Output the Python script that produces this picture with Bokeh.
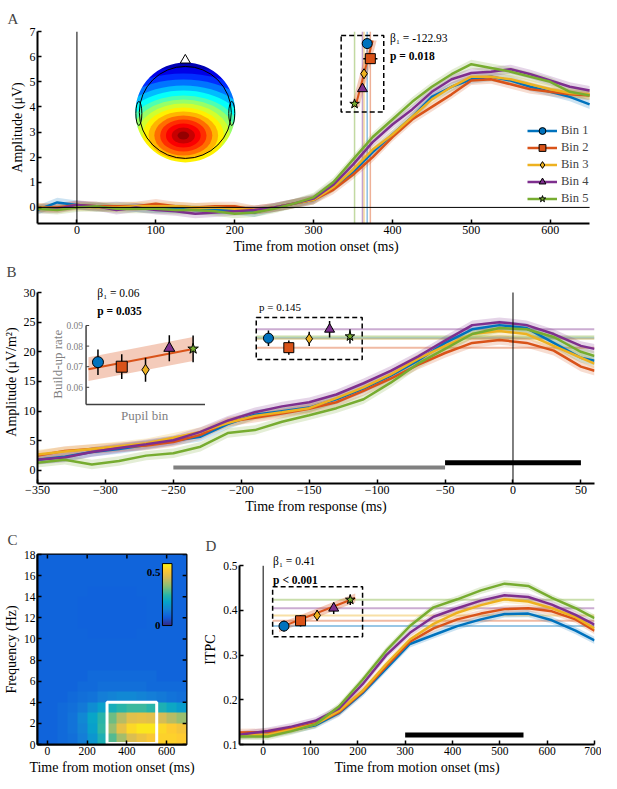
import numpy as np
from bokeh.plotting import figure
from bokeh.models import (Range1d, Legend, LegendItem, LinearColorMapper, FixedTicker, Label)
from bokeh.layouts import column, row
from bokeh.embed import file_html
from bokeh.resources import INLINE
from bokeh.core.properties import value

FONT = "Liberation Serif"
BIN_LABELS = ["Bin 1", "Bin 2", "Bin 3", "Bin 4", "Bin 5"]
BIN_COLORS = ["#0072BD", "#D95319", "#EDB120", "#7E2F8E", "#77AC30"]
BIN_MARKERS = ["circle", "square", "diamond", "triangle", "star"]
BIN_INDEX = [1, 2, 3, 4, 5]
FIT_COLOR = "#D95319"

# ---------------- Panel A data ----------------
a_time = [-50, -25, 0, 25, 50, 75, 100, 125, 150, 175, 200, 225, 250, 275, 300,
          325, 350, 375, 400, 425, 450, 475, 500, 525, 550, 575, 600, 625, 650]
a_bin1 = [-0.1, 0.2, 0.1, 0.0, 0.05, 0.0, -0.05, -0.05, -0.1, -0.1, -0.1, -0.2, 0.0, 0.15, 0.3,
          0.8, 1.4, 2.2, 2.9, 3.6, 4.4, 4.8, 5.1, 5.2, 5.05, 4.8, 4.6, 4.4, 4.1]
a_bin2 = [0.0, 0.0, 0.1, 0.05, 0.05, 0.05, 0.15, 0.05, 0.0, 0.05, 0.05, -0.1, 0.0, 0.15, 0.3,
          0.7, 1.3, 2.0, 2.8, 3.5, 4.0, 4.5, 5.05, 5.1, 4.9, 4.7, 4.6, 4.5, 4.45]
a_bin3 = [0.0, -0.05, 0.05, 0.0, 0.0, 0.05, 0.05, 0.05, 0.0, 0.0, -0.05, -0.1, 0.0, 0.15, 0.3,
          0.8, 1.5, 2.3, 2.9, 3.6, 4.3, 4.8, 5.2, 5.2, 5.1, 4.9, 4.7, 4.55, 4.5]
a_bin4 = [-0.05, -0.05, 0.1, 0.05, -0.1, 0.0, -0.1, -0.15, -0.25, -0.2, -0.15, -0.1, 0.0, 0.15, 0.35,
          0.9, 1.7, 2.6, 3.3, 3.9, 4.6, 5.1, 5.35, 5.4, 5.5, 5.3, 5.05, 4.8, 4.65]
a_bin5 = [-0.05, -0.1, 0.0, 0.05, -0.05, -0.05, -0.05, -0.1, -0.1, -0.15, -0.25, -0.2, -0.05, 0.15, 0.4,
          1.0, 1.9, 2.8, 3.5, 4.2, 4.8, 5.3, 5.7, 5.55, 5.4, 5.2, 5.0, 4.6, 4.45]
a_sem = 0.18
a_xlim = [-50, 650]
a_ylim = [-0.64, 7]
a_latency = [368, 372, 364, 362, 352]
a_latency_err = [3, 9, 3, 3, 3]
a_fit_bins = [0.8, 5.2]
a_fit_lat = [375, 353]
a_fit_ci = 5
a_xticks = [0, 100, 200, 300, 400, 500, 600]
a_yticks = [0, 1, 2, 3, 4, 5, 6, 7]
a_beta = "β₁ = -122.93"
a_p = "p = 0.018"

# scalp topography read as filled contour rings around the posterior maximum
topo_ring_ry = [74, 68, 62, 56, 50, 45, 40, 36, 32, 28, 24, 20, 16, 12, 8, 4]      # px
topo_ring_val = [0.05, 0.10, 0.17, 0.24, 0.31, 0.38, 0.45, 0.52, 0.58, 0.64, 0.70,
                 0.77, 0.83, 0.88, 0.93, 0.98]                                      # jet 0..1
topo_aspect = 1.45

# ---------------- Panel B data ----------------
b_time = [-350, -330, -310, -290, -270, -250, -230, -210, -190, -170, -150,
          -130, -110, -90, -70, -50, -30, -10, 10, 30, 50, 60]
b_bin1 = [1.8, 2.3, 3.1, 3.6, 4.3, 5.0, 5.7, 7.8, 9.4, 10.0, 10.6, 12.0, 13.8, 16.0, 18.5, 21.5, 23.8, 24.5, 24.0, 21.5, 19.0, 18.5]
b_bin2 = [2.5, 3.3, 3.6, 3.9, 4.2, 4.8, 6.0, 8.2, 8.9, 9.6, 10.4, 11.5, 13.4, 15.5, 17.8, 19.8, 21.5, 22.0, 21.5, 20.2, 17.5, 16.8]
b_bin3 = [2.7, 3.2, 3.6, 4.1, 4.6, 5.5, 6.5, 8.0, 9.2, 9.8, 10.5, 12.2, 14.0, 16.2, 18.8, 21.0, 23.0, 23.5, 23.0, 21.0, 19.0, 18.0]
b_bin4 = [1.8, 2.2, 3.1, 3.8, 4.4, 5.1, 6.5, 8.4, 9.8, 10.8, 11.5, 12.8, 14.7, 16.8, 19.2, 21.9, 24.5, 25.0, 24.5, 23.0, 21.0, 20.5]
b_bin5 = [1.3, 1.8, 1.0, 1.6, 2.5, 2.9, 4.0, 6.3, 6.8, 8.2, 9.3, 10.5, 12.0, 14.8, 18.0, 20.5, 23.0, 24.0, 23.8, 22.5, 20.0, 19.3]
b_sem = 0.8
b_xlim = [-350, 60]
b_ylim = [-2.2, 30]
b_level = [22.3, 20.7, 22.2, 23.8, 22.6]
b_level_err = [1.3, 1.2, 1.2, 1.4, 1.2]
b_rate = [0.0722, 0.0700, 0.0685, 0.0790, 0.0787]
b_rate_err = [0.0062, 0.0060, 0.0058, 0.0063, 0.0065]
b_fit_x = [0.6, 5.0]
b_fit_y = [0.0688, 0.0786]
b_fit_ci = 0.0058
b_ins_xlim = [0.5, 5.5]
b_ins_ylim = [0.0517, 0.09]
b_ins_yticks = [0.06, 0.07, 0.08, 0.09]
b_ins_yticklabels = ["0.06", "0.07", "0.08", "0.09"]
b_sig_gray = [-250, -50]
b_sig_black = [-50, 50]
b_xticks = [-350, -300, -250, -200, -150, -100, -50, 0, 50]
b_yticks = [0, 5, 10, 15, 20, 25, 30]
b_beta = "β₁ = 0.06"
b_p = "p = 0.035"
b_p_level = "p = 0.145"

# ---------------- Panel C data ----------------
c_freq_edges = [0, 18]
c_time_edges = [-50, 700]
c_itpc = [  # rows: 0-1 Hz ... 17-18 Hz; columns: 50 ms bins from -50 to 700 ms
    [0.09, 0.09, 0.10, 0.11, 0.14, 0.19, 0.26, 0.32, 0.39, 0.45, 0.48, 0.50, 0.52, 0.52, 0.51],
    [0.09, 0.09, 0.10, 0.12, 0.15, 0.21, 0.29, 0.38, 0.47, 0.53, 0.55, 0.55, 0.53, 0.51, 0.49],
    [0.09, 0.09, 0.10, 0.12, 0.16, 0.22, 0.28, 0.34, 0.41, 0.46, 0.47, 0.46, 0.44, 0.41, 0.38],
    [0.09, 0.09, 0.10, 0.11, 0.13, 0.17, 0.21, 0.25, 0.28, 0.30, 0.30, 0.28, 0.26, 0.23, 0.20],
    [0.09, 0.09, 0.09, 0.10, 0.11, 0.12, 0.14, 0.15, 0.16, 0.16, 0.15, 0.14, 0.13, 0.12, 0.11],
    [0.09, 0.09, 0.09, 0.09, 0.10, 0.10, 0.11, 0.11, 0.11, 0.11, 0.11, 0.10, 0.10, 0.10, 0.10],
    [0.09, 0.09, 0.09, 0.09, 0.09, 0.10, 0.10, 0.10, 0.10, 0.10, 0.10, 0.10, 0.09, 0.09, 0.09],
    [0.09, 0.09, 0.09, 0.09, 0.09, 0.09, 0.09, 0.09, 0.09, 0.09, 0.09, 0.09, 0.09, 0.09, 0.09],
    [0.09, 0.09, 0.09, 0.09, 0.09, 0.09, 0.09, 0.09, 0.09, 0.09, 0.09, 0.09, 0.09, 0.09, 0.09],
    [0.09, 0.09, 0.09, 0.09, 0.09, 0.09, 0.09, 0.09, 0.09, 0.09, 0.09, 0.09, 0.09, 0.09, 0.09],
    [0.09, 0.09, 0.09, 0.09, 0.09, 0.085, 0.085, 0.085, 0.085, 0.085, 0.09, 0.09, 0.09, 0.09, 0.09],
    [0.09, 0.09, 0.09, 0.09, 0.085, 0.085, 0.085, 0.085, 0.085, 0.085, 0.085, 0.09, 0.09, 0.09, 0.09],
    [0.09, 0.09, 0.09, 0.09, 0.085, 0.085, 0.085, 0.085, 0.085, 0.085, 0.085, 0.09, 0.09, 0.09, 0.09],
    [0.09, 0.09, 0.09, 0.09, 0.085, 0.085, 0.085, 0.085, 0.085, 0.085, 0.085, 0.09, 0.09, 0.09, 0.09],
    [0.09, 0.09, 0.09, 0.09, 0.09, 0.085, 0.085, 0.085, 0.085, 0.085, 0.09, 0.09, 0.09, 0.09, 0.09],
    [0.09, 0.09, 0.09, 0.09, 0.09, 0.09, 0.09, 0.09, 0.09, 0.09, 0.09, 0.09, 0.09, 0.09, 0.09],
    [0.09, 0.09, 0.09, 0.09, 0.09, 0.09, 0.09, 0.09, 0.09, 0.09, 0.09, 0.09, 0.09, 0.09, 0.09],
    [0.09, 0.09, 0.09, 0.09, 0.09, 0.09, 0.09, 0.09, 0.09, 0.09, 0.09, 0.09, 0.09, 0.09, 0.09],
]
c_clim = [0, 0.58]
c_window_time = [300, 550]
c_window_freq = [0, 4]
c_xticks = [0, 200, 400, 600]
c_yticks = [0, 2, 4, 6, 8, 10, 12, 14, 16, 18]
c_cbar_ticks = [0, 0.5]
c_cbar_labels = ["0", "0.5"]

# ---------------- Panel D data ----------------
d_time = [-50, 10, 60, 110, 160, 210, 260, 310, 360, 410, 460, 510, 560, 610, 660, 700]
d_bin1 = [0.120, 0.122, 0.132, 0.143, 0.170, 0.215, 0.270, 0.325, 0.345, 0.365, 0.380, 0.392, 0.393, 0.378, 0.355, 0.333]
d_bin2 = [0.127, 0.128, 0.135, 0.147, 0.172, 0.218, 0.275, 0.330, 0.360, 0.380, 0.393, 0.403, 0.405, 0.398, 0.380, 0.355]
d_bin3 = [0.120, 0.122, 0.133, 0.145, 0.175, 0.220, 0.280, 0.335, 0.370, 0.395, 0.412, 0.425, 0.420, 0.405, 0.385, 0.360]
d_bin4 = [0.122, 0.130, 0.140, 0.153, 0.180, 0.235, 0.300, 0.350, 0.386, 0.405, 0.422, 0.434, 0.430, 0.413, 0.390, 0.368]
d_bin5 = [0.118, 0.118, 0.130, 0.145, 0.185, 0.245, 0.310, 0.365, 0.407, 0.425, 0.445, 0.460, 0.455, 0.428, 0.405, 0.383]
d_sem = 0.008
d_xlim = [-50, 700]
d_ylim = [0.1, 0.5]
d_level = [0.365, 0.377, 0.389, 0.405, 0.424]
d_level_err = [0.012, 0.013, 0.012, 0.013, 0.012]
d_fit_b = [0.7, 5.3]
d_fit_y = [0.361, 0.428]
d_fit_ci = 0.010
d_sig = [300, 550]
d_xticks = [0, 100, 200, 300, 400, 500, 600, 700]
d_yticks = [0.1, 0.2, 0.3, 0.4, 0.5]
d_beta = "β₁ = 0.41"
d_p = "p < 0.001"


# ---------------- helpers ----------------
def hex2rgb(h):
    return tuple(int(h[i:i + 2], 16) for i in (1, 3, 5))


def build_palette(stops, n=256):
    pos = [s for s, _ in stops]
    rgb = np.array([hex2rgb(c) for _, c in stops], dtype=float)
    out = []
    for t in np.linspace(0, 1, n):
        r, g, b = (np.interp(t, pos, rgb[:, k]) for k in range(3))
        out.append("#%02x%02x%02x" % (int(round(r)), int(round(g)), int(round(b))))
    return out


PARULA = build_palette([(0.0, "#352A87"), (0.125, "#0F5CDD"), (0.25, "#1481D6"),
                        (0.375, "#06A4CA"), (0.5, "#2EB7A4"), (0.625, "#87BF77"),
                        (0.75, "#D1BB59"), (0.875, "#FEC832"), (1.0, "#F9FB0E")])
JET = build_palette([(0.0, "#00007F"), (0.125, "#0000FF"), (0.375, "#00FFFF"),
                     (0.625, "#FFFF00"), (0.875, "#FF0000"), (1.0, "#7F0000")])


def jet_color(v):
    return JET[int(round(min(max(v, 0), 1) * 255))]


def style_axis(ax, size="12px"):
    ax.axis_line_width = 2
    ax.axis_line_color = "black"
    ax.major_tick_in = 4
    ax.major_tick_out = 0
    ax.major_tick_line_width = 1.5
    ax.major_tick_line_color = "black"
    ax.minor_tick_line_color = None
    ax.major_label_text_font = FONT
    ax.major_label_text_font_size = size
    ax.major_label_text_color = "black"
    ax.major_label_standoff = 2
    ax.axis_label_text_font = FONT
    ax.axis_label_text_font_size = "14px"
    ax.axis_label_text_font_style = "normal"
    ax.axis_label_text_color = "black"
    ax.axis_label_standoff = 2


def base_fig(width, height, xr, yr, borders, letter, letter_offset, letter_standoff):
    l, r, t, b = borders
    p = figure(width=width, height=height, x_range=Range1d(*xr), y_range=Range1d(*yr),
               output_backend="svg", toolbar_location=None, min_border=0,
               min_border_left=l, min_border_right=r, min_border_top=t, min_border_bottom=b)
    p.outline_line_color = None
    p.xgrid.visible = False
    p.ygrid.visible = False
    p.title.text = letter
    p.title.text_font = FONT
    p.title.text_font_size = "15px"
    p.title.text_font_style = "normal"
    p.title.align = "left"
    p.title.offset = letter_offset
    p.title.standoff = letter_standoff
    return p


def add_text(p, x, y, text, size="11.5px", bold=False, color="black", align="left",
             baseline="middle"):
    p.add_layout(Label(x=x, y=y, text=text, text_font=FONT, text_font_size=size,
                       text_font_style="bold" if bold else "normal", text_color=color,
                       text_align=align, text_baseline=baseline))


def curves(p, t, series, sem, width=2.5):
    rs = []
    for v, c in zip(series, BIN_COLORS):
        v = np.asarray(v, dtype=float)
        p.varea(x=t, y1=v - sem, y2=v + sem, fill_color=c, fill_alpha=0.2)
    for v, c in zip(series, BIN_COLORS):
        rs.append(p.line(t, v, line_color=c, line_width=width))
    return rs


# ================= Panel A =================
A_PX_PER_MS = 564 / (a_xlim[1] - a_xlim[0])
pA = base_fig(601, 258, (a_xlim[0], a_xlim[0] + 569 / A_PX_PER_MS), a_ylim, (31, 1, 31, 35),
              "A", -30, 10)
pA.extra_y_ranges = {"bins": Range1d(12.933, 0.2)}
pA.xaxis.ticker = FixedTicker(ticks=a_xticks)
pA.yaxis.ticker = FixedTicker(ticks=a_yticks)
pA.xaxis.bounds = tuple(a_xlim)
pA.xaxis.axis_label = "Time from motion onset (ms)"
pA.yaxis.axis_label = "Amplitude (μV)"
for ax in pA.xaxis + pA.yaxis:
    style_axis(ax)

# scalp map: contour rings, masked to the head, then outline
head_x, head_y = 137.4, 3.78
blob_x, blob_y = 134.9, 2.86
pA.ellipse(x=blob_x, y=blob_y, width=[2 * topo_aspect * r for r in topo_ring_ry],
           height=[2 * r for r in topo_ring_ry], width_units="screen", height_units="screen",
           fill_color=[jet_color(v) for v in topo_ring_val], line_color=None)
pA.annulus(x=[head_x], y=[head_y], inner_radius=50, outer_radius=118,
           inner_radius_units="screen", outer_radius_units="screen",
           fill_color="white", line_color=None)
pA.ellipse(x=[78.5, 196.3], y=[3.74, 3.74], width=6, height=24, width_units="screen",
           height_units="screen", fill_color=None, line_color="black")
pA.scatter([head_x], [5.86], marker="triangle", size=10, fill_color="white", line_color="black")
pA.scatter([head_x], [head_y], marker="circle", size=92, fill_color=None, line_color="black",
           line_width=1)

pA.segment(x0=a_latency, y0=a_ylim[0], x1=a_latency, y1=a_ylim[1], line_color=BIN_COLORS,
           line_alpha=0.45, line_width=1.5)
a_lines = curves(pA, a_time, [a_bin1, a_bin2, a_bin3, a_bin4, a_bin5], a_sem)
pA.segment(x0=[a_xlim[0], 0], y0=[0, a_ylim[0]], x1=[a_xlim[1], 0], y1=[0, a_ylim[1]],
           line_color="black", line_width=1)

pA.harea(y=a_fit_bins, x1=[v - a_fit_ci for v in a_fit_lat], x2=[v + a_fit_ci for v in a_fit_lat],
         fill_color=FIT_COLOR, fill_alpha=0.3, y_range_name="bins")
pA.line(a_fit_lat, a_fit_bins, line_color=FIT_COLOR, line_width=2, y_range_name="bins")
pA.segment(x0=[l - e for l, e in zip(a_latency, a_latency_err)], y0=BIN_INDEX,
           x1=[l + e for l, e in zip(a_latency, a_latency_err)], y1=BIN_INDEX,
           line_color="black", line_width=1.5, y_range_name="bins")
a_marks = []
for k in range(5):
    a_marks.append(pA.scatter([a_latency[k]], [BIN_INDEX[k]], marker=BIN_MARKERS[k], size=10,
                              fill_color=BIN_COLORS[k], line_color="black", line_width=1,
                              y_range_name="bins"))
pA.quad(left=[335], right=[389], bottom=[3.8], top=[6.84], fill_color=None,
        line_color="black", line_dash="5 3", line_width=1.5)

add_text(pA, 397, 6.76, a_beta)
add_text(pA, 397, 6.04, a_p, bold=True)

legA = Legend(items=[LegendItem(label=BIN_LABELS[k], renderers=[a_lines[k], a_marks[k]])
                     for k in range(5)],
              location=(490, 16), glyph_width=30, glyph_height=17, label_height=17,
              spacing=0, padding=0, margin=0, border_line_color=None,
              background_fill_alpha=0, label_text_font=FONT, label_text_font_size="12.5px",
              label_standoff=4)
pA.add_layout(legA)

# ================= Panel B =================
B_EXT = 12  # px of headroom above the axis top
B_PX_PER_UNIT = 191 / (b_ylim[1] - b_ylim[0])
pB = base_fig(601, 262, b_xlim, (b_ylim[0], b_ylim[1] + B_EXT / B_PX_PER_UNIT),
              (32, 7, 22, 37), "B", -31, 2)
INS_PX_PER_UNIT = 20.6 / 0.01
pB.extra_x_ranges = {"ix": Range1d(-1.5417, 21.875), "bx": Range1d(-10.333, 17.0)}
pB.extra_y_ranges = {"iy": Range1d(0.0133, 0.10602 + B_EXT / INS_PX_PER_UNIT)}
pB.xaxis.ticker = FixedTicker(ticks=b_xticks)
pB.yaxis.ticker = FixedTicker(ticks=b_yticks)
pB.yaxis.bounds = tuple(b_ylim)
pB.xaxis.axis_label = "Time from response (ms)"
pB.yaxis.axis_label = "Amplitude (μV/m²)"
for ax in pB.xaxis + pB.yaxis:
    style_axis(ax)

pB.segment(x0=-189, y0=b_level, x1=b_xlim[1], y1=b_level, line_color=BIN_COLORS, line_alpha=0.4,
           line_width=2)
curves(pB, b_time, [b_bin1, b_bin2, b_bin3, b_bin4, b_bin5], b_sem)
pB.segment(x0=[0], y0=[b_ylim[0]], x1=[0], y1=[b_ylim[1]], line_color="black", line_width=1)
pB.segment(x0=[b_sig_gray[0]], y0=[0.5], x1=[b_sig_gray[1]], y1=[0.5], line_color="#808080",
           line_width=4)
pB.segment(x0=[b_sig_black[0]], y0=[1.3], x1=[b_sig_black[1]], y1=[1.3], line_color="black",
           line_width=5)

# level inset
pB.segment(x0=BIN_INDEX, y0=[v - e for v, e in zip(b_level, b_level_err)], x1=BIN_INDEX,
           y1=[v + e for v, e in zip(b_level, b_level_err)], line_color="black", line_width=1.5,
           x_range_name="bx")
for k in range(5):
    pB.scatter([BIN_INDEX[k]], [b_level[k]], marker=BIN_MARKERS[k], size=10,
               fill_color=BIN_COLORS[k], line_color="black", x_range_name="bx")
pB.quad(left=[-189], right=[-111], bottom=[18.7], top=[25.8], fill_color=None,
        line_color="black", line_dash="5 3", line_width=1.5)
add_text(pB, -187, 27.6, b_p_level, size="11px")

# build-up rate inset axes
INS = dict(x_range_name="ix", y_range_name="iy")
pB.varea(x=b_fit_x, y1=[v - b_fit_ci for v in b_fit_y], y2=[v + b_fit_ci for v in b_fit_y],
         fill_color=FIT_COLOR, fill_alpha=0.3, **INS)
pB.line(b_fit_x, b_fit_y, line_color=FIT_COLOR, line_width=2, **INS)
pB.segment(x0=BIN_INDEX, y0=[v - e for v, e in zip(b_rate, b_rate_err)], x1=BIN_INDEX,
           y1=[v + e for v, e in zip(b_rate, b_rate_err)], line_color="black", line_width=1.5, **INS)
for k in range(5):
    pB.scatter([BIN_INDEX[k]], [b_rate[k]], marker=BIN_MARKERS[k], size=11,
               fill_color=BIN_COLORS[k], line_color="black", **INS)
pB.segment(x0=[b_ins_xlim[0], b_ins_xlim[0]], y0=[b_ins_ylim[0], b_ins_ylim[0]],
           x1=[b_ins_xlim[0], b_ins_xlim[1]], y1=[b_ins_ylim[1], b_ins_ylim[0]],
           line_color="#404040", line_width=1.5, **INS)
pB.segment(x0=b_ins_xlim[0], y0=b_ins_yticks, x1=b_ins_xlim[0] + 0.13, y1=b_ins_yticks,
           line_color="#404040", line_width=1, **INS)
pB.text(x=[b_ins_xlim[0]] * 4, y=b_ins_yticks, text=b_ins_yticklabels, x_offset=-3,
        text_align="right", text_baseline="middle", text_font=value(FONT),
        text_font_size="9.5px", text_color="#808080", **INS)
pB.text(x=[-0.72], y=[0.0712], text=["Build-up rate"], angle=np.pi / 2, text_align="center",
        text_baseline="middle", text_font=value(FONT), text_font_size="13px",
        text_color="#808080", **INS)
pB.text(x=[2.96], y=[0.0462], text=["Pupil bin"], text_align="center", text_baseline="middle",
        text_font=value(FONT), text_font_size="13px", text_color="#808080", **INS)
add_text(pB, -306, 30.0, b_beta)
add_text(pB, -306, 26.9, b_p, bold=True)

# ================= Panel C =================
pC = base_fig(200, 257, c_time_edges, c_freq_edges, (31, 14, 34, 33), "C", -30, 13)
c_mapper = LinearColorMapper(palette=PARULA, low=c_clim[0], high=c_clim[1])
pC.image(image=[np.array(c_itpc, dtype=float)], x=c_time_edges[0], y=c_freq_edges[0],
         dw=c_time_edges[1] - c_time_edges[0], dh=c_freq_edges[1] - c_freq_edges[0],
         color_mapper=c_mapper)
pC.quad(left=[c_window_time[0]], right=[c_window_time[1]], bottom=[c_window_freq[0] + 0.1],
        top=[c_window_freq[1]], fill_color=None, line_color="white", line_width=3)
# colour bar drawn inside the axes
cb_x0, cb_x1, cb_y0, cb_y1 = 579, 627, 11.27, 17.14
cb_vals = np.linspace(c_clim[0], c_clim[1], 128).reshape(128, 1)
pC.image(image=[cb_vals], x=cb_x0, y=cb_y0, dw=cb_x1 - cb_x0, dh=cb_y1 - cb_y0,
         color_mapper=c_mapper)
pC.quad(left=[cb_x0], right=[cb_x1], bottom=[cb_y0], top=[cb_y1], fill_color=None,
        line_color="black", line_width=1)
cb_label_y = [cb_y0 + (t - c_clim[0]) / (c_clim[1] - c_clim[0]) * (cb_y1 - cb_y0) for t in c_cbar_ticks]
pC.text(x=[cb_x0 - 10] * 2, y=cb_label_y, text=c_cbar_labels, text_align="right",
        text_baseline="middle", text_font=value(FONT), text_font_size="11px",
        text_font_style="bold")
# ticks on the top and right edges of the box
C_TICK_Y = 4 * (c_freq_edges[1] - c_freq_edges[0]) / 190
C_TICK_X = 4 * (c_time_edges[1] - c_time_edges[0]) / 155
pC.segment(x0=c_xticks, y0=c_freq_edges[1], x1=c_xticks, y1=c_freq_edges[1] - C_TICK_Y,
           line_color="black", line_width=1.5)
pC.segment(x0=c_time_edges[1], y0=c_yticks, x1=c_time_edges[1] - C_TICK_X, y1=c_yticks,
           line_color="black", line_width=1.5)
pC.outline_line_color = "black"
pC.outline_line_width = 2
pC.xaxis.ticker = FixedTicker(ticks=c_xticks)
pC.yaxis.ticker = FixedTicker(ticks=c_yticks)
pC.xaxis.axis_label = "Time from motion onset (ms)"
pC.yaxis.axis_label = "Frequency (Hz)"
for ax in pC.xaxis + pC.yaxis:
    style_axis(ax, size="11.5px")

# ================= Panel D =================
D_EXT = 12
D_PX_PER_UNIT = 190 / (d_ylim[1] - d_ylim[0])
pD = base_fig(401, 257, d_xlim, (d_ylim[0], d_ylim[1] + D_EXT / D_PX_PER_UNIT),
              (35, 7, 22, 33), "D", -34, 1)
pD.extra_x_ranges = {"bx": Range1d(-1.6857, 19.743)}
pD.xaxis.ticker = FixedTicker(ticks=d_xticks)
pD.yaxis.ticker = FixedTicker(ticks=d_yticks)
pD.yaxis.bounds = tuple(d_ylim)
pD.xaxis.axis_label = "Time from motion onset (ms)"
pD.yaxis.axis_label = "ITPC"
for ax in pD.xaxis + pD.yaxis:
    style_axis(ax, size="11.5px")

pD.segment(x0=20, y0=d_level, x1=d_xlim[1], y1=d_level, line_color=BIN_COLORS, line_alpha=0.4,
           line_width=2)
curves(pD, d_time, [d_bin1, d_bin2, d_bin3, d_bin4, d_bin5], d_sem)
pD.segment(x0=[0], y0=[d_ylim[0]], x1=[0], y1=[d_ylim[1]], line_color="black", line_width=1)
pD.segment(x0=[d_sig[0]], y0=[0.121], x1=[d_sig[1]], y1=[0.121], line_color="black", line_width=5)
pD.varea(x=d_fit_b, y1=[v - d_fit_ci for v in d_fit_y], y2=[v + d_fit_ci for v in d_fit_y],
         fill_color=FIT_COLOR, fill_alpha=0.3, x_range_name="bx")
pD.line(d_fit_b, d_fit_y, line_color=FIT_COLOR, line_width=2, x_range_name="bx")
pD.segment(x0=BIN_INDEX, y0=[v - e for v, e in zip(d_level, d_level_err)], x1=BIN_INDEX,
           y1=[v + e for v, e in zip(d_level, d_level_err)], line_color="black", line_width=1.5,
           x_range_name="bx")
for k in range(5):
    pD.scatter([BIN_INDEX[k]], [d_level[k]], marker=BIN_MARKERS[k], size=10,
               fill_color=BIN_COLORS[k], line_color="black", x_range_name="bx")
pD.quad(left=[20], right=[210], bottom=[0.341], top=[0.453], fill_color=None,
        line_color="black", line_dash="5 3", line_width=1.5)
add_text(pD, 21, 0.511, d_beta)
add_text(pD, 21, 0.469, d_p, bold=True)

layout = column(pA, pB, row(pC, pD))
with open("out.html", "w") as f:
    f.write(file_html(layout, INLINE, "Figure"))
